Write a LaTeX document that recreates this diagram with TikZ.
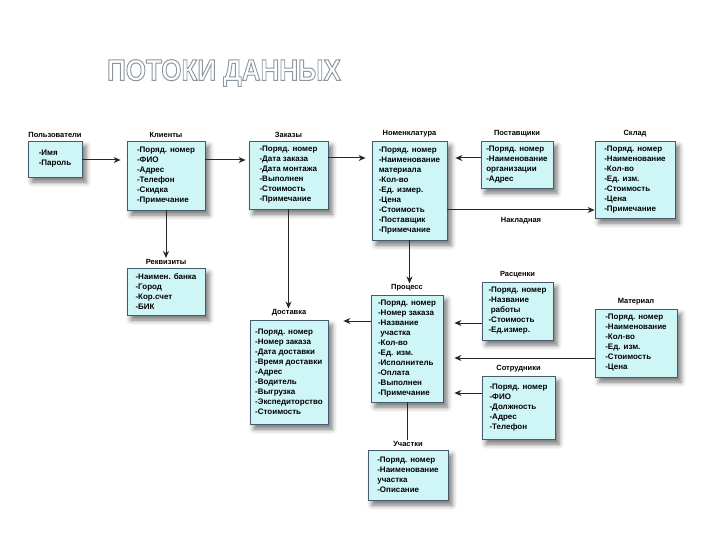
\documentclass[tikz,border=0pt]{standalone}
\usepackage{fontspec}
\setmainfont{Liberation Sans}
\usetikzlibrary{arrows.meta,positioning,shadows.blur}

\definecolor{tblfill}{RGB}{207,246,247}
\definecolor{tbldraw}{RGB}{70,90,110}

% outlined letters for the heading
\newcommand{\hollow}[1]{\special{pdf:literal direct 0.55 0.59 0.63 RG 0.9 w 2 Tr}#1\special{pdf:literal direct 0 Tr}}

\begin{document}
\begin{tikzpicture}[x=1pt, y=-1pt,
    tbl/.style={draw=tbldraw, fill=tblfill, line width=0.8pt, align=left, inner sep=3pt,
        font=\fontsize{8}{10}\selectfont\bfseries,
        blur shadow={shadow xshift=4pt, shadow yshift=-5pt, shadow blur radius=5pt, shadow opacity=55}},
    tcap/.style={font=\fontsize{7.5}{9}\selectfont\bfseries, inner sep=1pt},
    arrow/.style={-{Stealth[length=7pt, width=6pt]}, line width=1pt, draw=black!85},
    lbl/.style={font=\fontsize{7.5}{9}\selectfont\bfseries}
]
\useasboundingbox (0,0) rectangle (720,540);

% Heading
\node[font=\fontsize{26}{30}\selectfont\bfseries, text=white, yscale=1.15] (title) at (224,73) {\hollow{ПОТОКИ ДАННЫХ}};

% Tables
\node[tbl, minimum width=54pt, minimum height=36pt] (polz) at (55,159) {-Имя\\-Пароль};
\node[tbl, minimum width=78pt, minimum height=69pt] (klient) at (166,175.5) {-Поряд. номер\\-ФИО\\-Адрес\\-Телефон\\-Скидка\\-Примечание};
\node[tbl, minimum width=79pt, minimum height=68pt] (zakaz) at (288.5,175) {-Поряд. номер\\-Дата заказа\\-Дата монтажа\\-Выполнен\\-Стоимость\\-Примечание};
\node[tbl, minimum width=75pt, minimum height=99pt] (nomen) at (409.5,190.5) {-Поряд. номер\\-Наименование\\материала\\-Кол-во\\-Ед. измер.\\-Цена\\-Стоимость\\-Поставщик\\-Примечание};
\node[tbl, minimum width=72pt, minimum height=47pt] (post) at (517,164.5) {-Поряд. номер\\-Наименование\\организации\\-Адрес};
\node[tbl, minimum width=80pt, minimum height=77pt] (sklad) at (635,179.5) {-Поряд. номер\\-Наименование\\-Кол-во\\-Ед. изм.\\-Стоимость\\-Цена\\-Примечание};
\node[tbl, minimum width=78pt, minimum height=47pt] (rekv) at (166,291.5) {-Наимен. банка\\-Город\\-Кор.счет\\-БИК};
\node[tbl, minimum width=78pt, minimum height=104pt] (dost) at (289,372) {-Поряд. номер\\-Номер заказа\\-Дата доставки\\-Время доставки\\-Адрес\\-Водитель\\-Выгрузка\\-Экспедиторство\\-Стоимость};
\node[tbl, minimum width=72pt, minimum height=107pt] (proc) at (407,348.5) {-Поряд. номер\\-Номер заказа\\-Название\\\ участка\\-Кол-во\\-Ед. изм.\\-Исполнитель\\-Оплата\\-Выполнен\\-Примечание};
\node[tbl, minimum width=71pt, minimum height=58pt] (rasc) at (517.5,311) {-Поряд. номер\\-Название\\\ работы\\-Стоимость\\-Ед.измер.};
\node[tbl, minimum width=82pt, minimum height=68pt] (mater) at (636,343) {-Поряд. номер\\-Наименование\\-Кол-во\\-Ед. изм.\\-Стоимость\\-Цена};
\node[tbl, minimum width=73pt, minimum height=63pt] (sotr) at (518.5,407.5) {-Поряд. номер\\-ФИО\\-Должность\\-Адрес\\-Телефон};
\node[tbl, minimum width=80pt, minimum height=50pt] (uch) at (408,475) {-Поряд. номер\\-Наименование\\участка\\-Описание};

% Captions
\node[tcap, above=2pt of polz] (polzC) {Пользователи};
\node[tcap, above=2pt of klient] (klientC) {Клиенты};
\node[tcap, above=2pt of zakaz] (zakazC) {Заказы};
\node[tcap, above=2pt of nomen] (nomenC) {Номенклатура};
\node[tcap, above=2pt of post] (postC) {Поставщики};
\node[tcap, above=2pt of sklad] (skladC) {Склад};
\node[tcap, above=2pt of rekv] (rekvC) {Реквизиты};
\node[tcap, above=2pt of dost] (dostC) {Доставка};
\node[tcap, above=2pt of proc] (procC) {Процесс};
\node[tcap, above=2pt of rasc] (rascC) {Расценки};
\node[tcap, above=2pt of mater] (materC) {Материал};
\node[tcap, above=2pt of sotr] (sotrC) {Сотрудники};
\node[tcap, above=2pt of uch] (uchC) {Участки};

% Arrows
\draw[arrow, shorten >=6pt] (polz.east |- 0,160) -- (klient.west |- 0,160);
\draw[arrow, shorten >=3pt] (klient.east |- 0,160) -- (zakaz.west |- 0,160);
\draw[arrow, shorten >=6pt] (zakaz.east |- 0,158) -- (nomen.west |- 0,158);
\draw[arrow, shorten >=8pt] (post.west |- 0,158) -- (nomen.east |- 0,158);
\draw[arrow] (nomen.east |- 0,210) -- (sklad.west |- 0,210) node[midway, below=4pt, lbl] {Накладная};
\draw[arrow] (klient.south) -- (klient.south |- rekvC.north);
\draw[arrow] (zakaz.south) -- (zakaz.south |- dostC.north);
\draw[arrow] (nomen.south) -- (nomen.south |- procC.north);
\draw[arrow, shorten >=15pt] (proc.west |- 0,321) -- (dost.east |- 0,321);
\draw[arrow, shorten >=11pt] (rasc.west |- 0,323) -- (proc.east |- 0,323);
\draw[arrow, shorten >=11pt] (mater.west |- 0,358) -- (proc.east |- 0,358);
\draw[arrow, shorten >=11pt] (sotr.west |- 0,393) -- (proc.east |- 0,393);
\draw[line width=1pt, draw=black!85] (proc.south) -- (proc.south |- uchC.north);

\end{tikzpicture}
\end{document}
